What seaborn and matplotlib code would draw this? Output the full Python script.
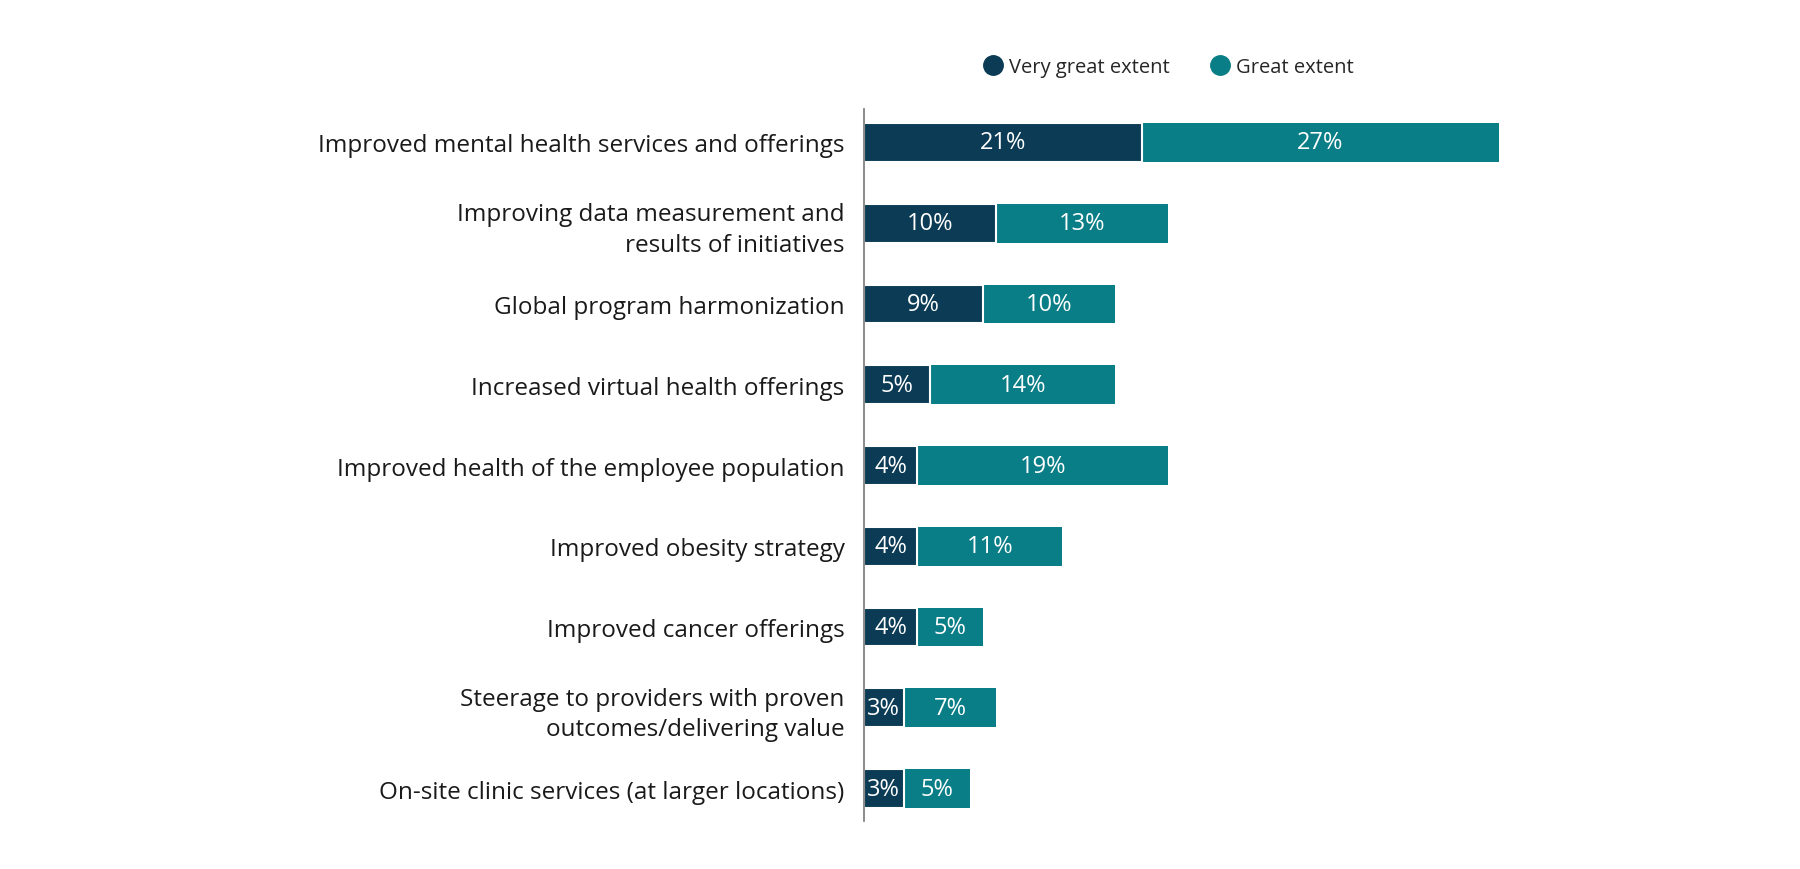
import matplotlib
matplotlib.use("Agg")
import matplotlib.pyplot as plt
import seaborn as sns
import pandas as pd
from matplotlib.lines import Line2D

categories = [
    "Improved mental health services and offerings",
    "Improving data measurement and\nresults of initiatives",
    "Global program harmonization",
    "Increased virtual health offerings",
    "Improved health of the employee population",
    "Improved obesity strategy",
    "Improved cancer offerings",
    "Steerage to providers with proven\noutcomes/delivering value",
    "On-site clinic services (at larger locations)",
]
very_great = [21, 10, 9, 5, 4, 4, 4, 3, 3]
great = [27, 13, 10, 14, 19, 11, 5, 7, 5]
series_names = ["Very great extent", "Great extent"]

DARK = "#0B3B55"
TEAL = "#0A7E86"

sns.set_theme(style="white")
plt.rcParams["font.family"] = ["Open Sans", "DejaVu Sans"]

df = pd.DataFrame({"cat": categories, "vg": very_great, "g": great})
df["total"] = df["vg"] + df["g"]

fig = plt.figure(figsize=(18, 8.7), dpi=100)
ax = fig.add_axes([0.48, 0.0552, 0.3675, 0.818])

sns.barplot(data=df, y="cat", x="total", color=TEAL, saturation=1,
            width=0.48, ax=ax, orient="h", linewidth=0)
sns.barplot(data=df, y="cat", x="vg", color=DARK, saturation=1,
            width=0.48, ax=ax, orient="h", edgecolor="white", linewidth=1.5)

for i, (v1, v2) in enumerate(zip(very_great, great)):
    ax.text(v1 / 2, i, f"{v1}%", ha="center", va="center", color="white", fontsize=17)
    ax.text(v1 + v2 / 2, i, f"{v2}%", ha="center", va="center", color="white", fontsize=17)

ax.set_xlim(0, 50)
ax.set_ylim(8.4, -0.41)
ax.set_xlabel("")
ax.set_ylabel("")
ax.set_xticks([])
ax.tick_params(axis="y", length=0, pad=14, labelsize=17.5, labelcolor="#1a1a1a")
for lbl in ax.get_yticklabels():
    lbl.set_linespacing(1.35)
for s in ["top", "right", "bottom"]:
    ax.spines[s].set_visible(False)
ax.spines["left"].set_color("#777777")
ax.spines["left"].set_linewidth(1.2)

handles = [Line2D([0], [0], marker="o", linestyle="", markersize=14,
                  markerfacecolor=c, markeredgecolor=c) for c in (DARK, TEAL)]
fig.legend(handles, series_names, loc="center", bbox_to_anchor=(0.649, 0.922),
           ncol=2, frameon=False, fontsize=14.5, handletextpad=0.3,
           columnspacing=2.0, handlelength=1.0)

fig.savefig("out.png", dpi=100, facecolor="white")
